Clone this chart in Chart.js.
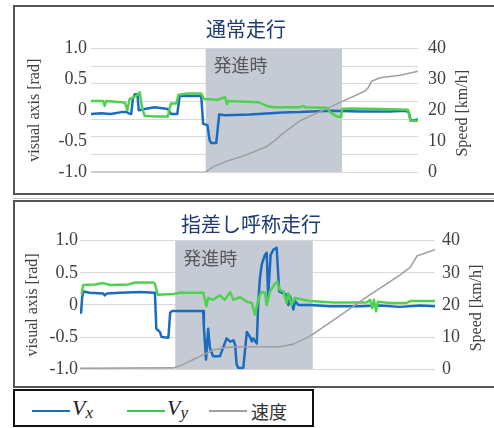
<!DOCTYPE html>
<html><head><meta charset="utf-8">
<script src="https://cdn.jsdelivr.net/npm/chart.js@4.4.1/dist/chart.umd.min.js"></script>
<style>
body{margin:0;width:494px;height:428px;overflow:hidden;background:#fff;position:relative;}
.box{position:absolute;box-sizing:border-box;border:2px solid #555;}
canvas{position:absolute;}
.leg{position:absolute;white-space:nowrap;}
</style></head><body>
<div class="box" style="left:13px;top:5px;width:500px;height:190px"></div>
<div style="position:absolute;left:13px;top:198px;width:490px;height:1px;background:#c8c8c8"></div>
<div class="box" style="left:13px;top:200px;width:500px;height:188px"></div>
<div class="box" style="left:13px;top:389px;width:301px;height:38px;border-color:#111"></div>
<canvas id="c1" width="479" height="186" style="left:15px;top:7px"></canvas>
<canvas id="c2" width="479" height="185" style="left:15px;top:202px"></canvas>

<div class="leg" style="left:32px;top:410px;width:38px;height:2px;background:#1B6BBF"></div>
<div class="leg" style="left:72px;top:397px;font:italic 22px 'Liberation Serif',serif;line-height:22px;color:#222">V<span style="font-size:17px;position:relative;top:3px">x</span></div>
<div class="leg" style="left:127px;top:410px;width:38px;height:2px;background:#3CC84A"></div>
<div class="leg" style="left:167px;top:397px;font:italic 22px 'Liberation Serif',serif;line-height:22px;color:#222">V<span style="font-size:17px;position:relative;top:3px">y</span></div>
<div class="leg" style="left:209px;top:410px;width:38px;height:2px;background:#A0A0A0"></div>
<div class="leg" style="left:251px;top:402px;font:18px 'Noto Sans CJK JP',sans-serif;line-height:18px;color:#333">速度</div>

<script>
// ---- data (time axis 0..100, arbitrary units) ----
const titles = ['通常走行', '指差し呼称走行'];
const zoneLabel = '発進時';
const radTicks = [-1, -0.5, 0, 0.5, 1];
const speedTicks = [0, 10, 20, 30, 40];

// Chart 1: 通常走行  [time, value]
const n_vx = [[0,-0.06],[3,-0.05],[6,-0.06],[9.3,-0.03],[11.0,-0.03],[11.5,-0.05],[12.3,-0.06],[12.8,0.18],[13.4,0.26],[14.2,0.26],[14.6,0.0],[16.4,0.02],[19.5,0.05],[23.5,0.02],[24.4,-0.06],[26.4,-0.06],[27.1,0.23],[33.7,0.23],[34.3,-0.22],[35.6,-0.24],[36.3,-0.49],[36.8,-0.53],[38.3,-0.53],[39.2,-0.07],[41.0,-0.08],[48.6,-0.07],[58.7,-0.035],[63.9,-0.03],[73.1,-0.01],[82.3,-0.02],[91.4,-0.02],[96.0,-0.01],[97.2,-0.03],[97.8,-0.17],[100,-0.15]];
const n_vy = [[0,0.15],[3.7,0.15],[4.2,0.07],[4.7,0.15],[9.3,0.13],[10.4,0.12],[11.1,0.0],[11.8,0.18],[13.4,0.22],[14.4,0.26],[14.9,0.29],[15.6,0.05],[16.4,-0.09],[19.5,-0.10],[23.5,-0.10],[24.0,0.02],[24.5,0.11],[26.1,0.11],[26.8,0.25],[29.7,0.27],[33.7,0.27],[34.6,0.18],[38.8,0.17],[41.0,0.21],[41.6,0.10],[41.9,0.15],[51.1,0.13],[53.8,0.07],[55.7,0.05],[63.9,0.05],[65.0,0.07],[65.5,0.05],[72.2,0.04],[73.1,-0.03],[75.2,-0.10],[76.5,-0.11],[76.8,0.02],[79.2,0.03],[88.4,0.02],[96.9,0.01],[97.7,-0.17],[100,-0.17]];
const n_spd = [[0,0],[35.0,0],[37.4,1.8],[41.5,3.5],[47.6,5.6],[53.7,8.3],[56.3,10.3],[58.4,12.3],[63.9,16.6],[74.1,21.5],[83.8,26.2],[84.8,27.3],[85.8,29.4],[88.4,30.5],[94.5,31.3],[100,32.6]];
const n_zone = [35.0, 76.8];

// Chart 2: 指差し呼称走行  [time, value]
const p_vx = [[0.3,-0.12],[0.6,0.11],[0.9,0.21],[2.8,0.19],[6.5,0.18],[7.0,0.15],[7.6,0.18],[11.3,0.19],[16.9,0.20],[21.1,0.19],[21.5,-0.37],[22.5,-0.42],[23.0,-0.50],[24.9,-0.51],[25.4,-0.12],[25.9,-0.095],[34.7,-0.095],[34.9,-0.35],[35.5,-0.85],[36.1,-0.37],[36.6,-0.67],[37.5,-0.80],[39.4,-0.80],[41.3,-0.52],[42.3,-0.57],[43.2,-0.55],[43.7,-0.62],[44.1,-0.92],[44.6,-0.98],[46.0,-0.98],[47.0,-0.42],[47.9,-0.50],[48.4,-0.57],[48.8,-0.52],[49.8,-0.60],[50.2,0.03],[50.7,0.43],[51.2,0.63],[52.1,0.78],[52.6,0.81],[53.0,0.13],[53.7,0.78],[54.5,0.86],[55.4,0.89],[56.1,0.21],[57.3,0.18],[58.2,0.16],[58.7,0.0],[59.2,0.13],[60.1,-0.07],[60.6,0.06],[61.5,0.0],[64.8,0.0],[70.4,-0.02],[78.9,-0.02],[84.5,-0.01],[90.1,-0.03],[95.8,-0.01],[100,-0.02]];
const p_vy = [[0.5,0.18],[0.9,0.31],[4.2,0.32],[6.6,0.34],[8.5,0.31],[13.6,0.32],[15.5,0.35],[20.6,0.35],[21.1,0.33],[21.9,0.16],[26.3,0.17],[28.2,0.19],[34.7,0.19],[35.2,0.08],[35.6,-0.02],[36.1,0.11],[37.5,0.08],[39.4,0.15],[40.8,0.08],[42.3,0.20],[43.2,0.08],[45.1,0.12],[47.0,0.05],[48.4,0.03],[49.3,-0.15],[50.2,0.08],[51.0,0.20],[52.1,0.19],[52.6,0.0],[53.5,0.21],[54.9,0.33],[55.6,0.36],[56.3,0.23],[57.3,0.21],[58.2,0.03],[58.7,0.18],[59.6,0.0],[60.6,0.11],[62.9,0.08],[64.8,0.06],[71.3,0.04],[80.8,0.04],[81.7,0.08],[82.3,-0.05],[82.8,0.08],[83.4,-0.10],[83.9,0.05],[87.3,0.03],[92.0,0.03],[93.0,0.06],[100,0.06]];
const p_spd = [[0,0.3],[26.3,0.4],[29.1,1.5],[31.9,3.0],[33.8,4.0],[37.5,6.0],[41.3,6.8],[46.0,7.0],[56.3,7.0],[60.1,7.8],[64.8,10.3],[71.4,15.3],[80.8,22.5],[90.1,29.3],[93.0,31.7],[94.9,35.2],[100,37.2]];
const p_zone = [26.8, 65.6];

const COL_VX = '#1B6BBF', COL_VY = '#4ED24E', COL_SPD = '#A0A0A0', COL_ZONE = 'rgb(196,203,213)';
const GRID = '#D9D9D9', TXT = '#404040';
const serif = "'Liberation Serif', 'Times New Roman', serif";
const jp = "'Noto Sans CJK JP', sans-serif";

const pts = a => a.map(([x, y]) => ({x, y}));

function build(id, title, vx, vy, spd, zone, L) {
  const scales = {
    x: {type: 'linear', min: 0, max: 100, display: false},
    y: {
      position: 'left', min: -1, max: 1,
      afterBuildTicks: s => { s.ticks = radTicks.map(v => ({value: v})); },
      grid: {display: !L.extraGrid, color: GRID, drawTicks: false},
      border: {display: false},
      ticks: {padding: L.lpad, color: TXT, font: {family: serif, size: 18},
              callback: v => v === 0 ? '0' : v.toFixed(1)},
      title: {display: true, text: 'visual axis [rad]', color: TXT,
              font: {family: serif, size: 16, lineHeight: 1.2}, padding: {top: L.ltitle, bottom: 0}},
      afterFit: s => { s.width = L.lw; }
    },
    y2: {
      position: 'right', min: 0, max: 40,
      afterBuildTicks: s => { s.ticks = speedTicks.map(v => ({value: v})); },
      grid: {display: false, drawTicks: false},
      border: {display: false},
      ticks: {padding: L.rpad, color: TXT, font: {family: serif, size: 18}},
      afterFit: s => { s.width = L.rw; }
    }
  };
  if (L.extraGrid) {
    scales.g = {
      position: 'left', min: 0, max: L.extraGrid,
      ticks: {display: false, stepSize: 1},
      grid: {color: GRID, drawTicks: false},
      border: {display: false},
      afterFit: s => { s.width = 0; }
    };
  }
  const labels = {
    id: 'extraText',
    afterDatasetsDraw(chart) {
      const {ctx, chartArea, scales} = chart;
      ctx.save();
      ctx.fillStyle = '#595959';
      ctx.font = '18px ' + jp;
      ctx.textAlign = 'left';
      ctx.textBaseline = 'middle';
      ctx.fillText(zoneLabel, scales.x.getPixelForValue(zone[0]) + 8, chartArea.top + 17);
      ctx.restore();
    },
    afterDraw(chart) {
      const {ctx, chartArea} = chart;
      ctx.save();
      ctx.fillStyle = TXT;
      ctx.font = '16px ' + serif;
      ctx.textAlign = 'center';
      ctx.textBaseline = 'middle';
      ctx.translate(chartArea.right + L.rtitle, (chartArea.top + chartArea.bottom) / 2 + 3);
      ctx.rotate(-Math.PI / 2);
      ctx.fillText('Speed [km/h]', 0, 0);
      ctx.restore();
    }
  };
  const line = (data, color, w, axis, order) => ({
    data: pts(data), borderColor: color, borderWidth: w, pointRadius: 0,
    yAxisID: axis, order, fill: false, tension: 0,
    borderJoinStyle: 'round', borderCapStyle: 'round'
  });
  return new Chart(document.getElementById(id), {
    type: 'line',
    data: {datasets: [
      line(vx, COL_VX, 2.5, 'y', 3),
      line(vy, COL_VY, 2.5, 'y', 2),
      line(spd, COL_SPD, 1.6, 'y2', 1),
      {data: [{x: zone[0], y: 1}, {x: zone[1], y: 1}], borderWidth: 0, pointRadius: 0,
       backgroundColor: COL_ZONE, fill: 'start', yAxisID: 'y', order: 10}
    ]},
    options: {
      responsive: false, animation: false, devicePixelRatio: 1,
      events: [],
      layout: {padding: {left: 0, right: L.pr, top: 0, bottom: L.pb}},
      plugins: {
        legend: {display: false}, tooltip: {enabled: false},
        title: {display: true, text: title, color: '#1F3B73',
                font: {family: jp, size: 20, weight: 'normal', lineHeight: 1.2},
                padding: {top: 10, bottom: L.tb}}
      },
      scales
    },
    plugins: [labels]
  });
}

build('c1', titles[0], n_vx, n_vy, n_spd, n_zone,
      {lw: 76, rw: 59, pr: 17, pb: 18.7, tb: 7.3, lpad: 4, rpad: 10, ltitle: 10.4, rtitle: 45, extraGrid: 7});
build('c2', titles[1], p_vx, p_vy, p_spd, p_zone,
      {lw: 65, rw: 52, pr: 7, pb: 13.7, tb: 4.7, lpad: 2, rpad: 7, ltitle: 8.4, rtitle: 41.7, extraGrid: 0});
</script>
</body></html>
